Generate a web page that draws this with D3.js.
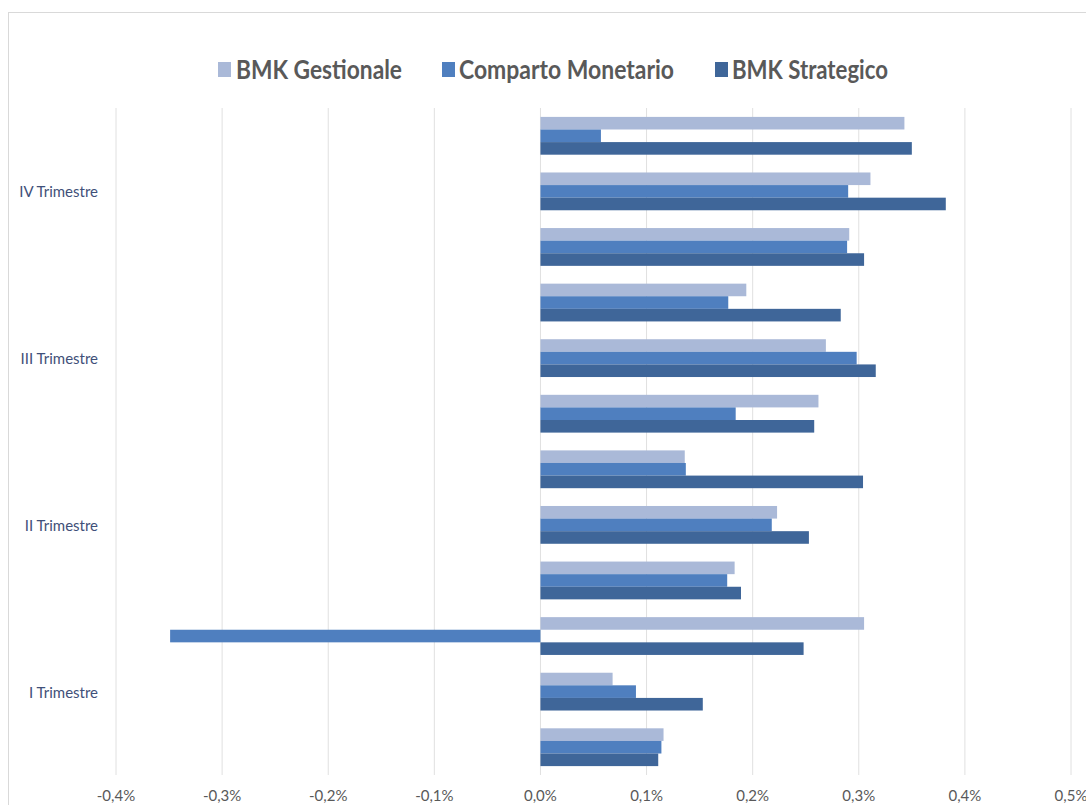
<!DOCTYPE html>
<meta charset="utf-8">
<script src="https://d3js.org/d3.v7.min.js"></script>
<style>
  body { margin: 0; background: #fff; }
  svg { display: block; font-family: Lato, "Open Sans", sans-serif; }
</style>
<div id="my_dataviz"></div>
<script>
// months, bottom (Jan) to top (Dec)
var months = ["Gen", "Feb", "Mar", "Apr", "Mag", "Giu", "Lug", "Ago", "Set", "Ott", "Nov", "Dic"];
// quarter label shown on the middle month of each quarter
var quarterLabels = ["I Trimestre", "II Trimestre", "III Trimestre", "IV Trimestre"];
var seriesNames = ["BMK Gestionale", "Comparto Monetario", "BMK Strategico"];
var colors = ["#aab9d8", "#4f7fbf", "#3f6699"];

// values in %
var gestionale = [0.116, 0.068, 0.305, 0.183, 0.223, 0.136, 0.262, 0.269, 0.194, 0.291, 0.311, 0.343];
var monetario  = [0.114, 0.090, -0.349, 0.176, 0.218, 0.137, 0.184, 0.298, 0.177, 0.289, 0.290, 0.057];
var strategico = [0.111, 0.153, 0.248, 0.189, 0.253, 0.304, 0.258, 0.316, 0.283, 0.305, 0.382, 0.350];

var xTicks = [-0.4, -0.3, -0.2, -0.1, 0, 0.1, 0.2, 0.3, 0.4, 0.5];

var W = 1086, H = 805;
var svg = d3.select("#my_dataviz").append("svg")
  .attr("width", W).attr("height", H);

// chart frame
svg.append("rect")
  .attr("x", 8.5).attr("y", 12.5)
  .attr("width", W + 20).attr("height", H + 20)
  .attr("fill", "#fff").attr("stroke", "#d9d9d9");

var plotTop = 108, plotBottom = 775;

var x = d3.scaleLinear().domain([-0.4, 0.5]).range([116, 1071]);

// top category on top -> reverse the months
var y = d3.scaleBand()
  .domain(months.slice().reverse())
  .range([plotTop, plotBottom])
  .paddingInner(0.32)
  .paddingOuter(0.16);

var ySub = d3.scaleBand().domain(seriesNames).range([0, y.bandwidth()]);

// gridlines
svg.append("g")
  .selectAll("line")
  .data(xTicks)
  .enter().append("line")
    .attr("x1", function(d) { return x(d); })
    .attr("x2", function(d) { return x(d); })
    .attr("y1", plotTop).attr("y2", plotBottom)
    .attr("stroke", "#e0e0e0").attr("stroke-width", 1);

// x tick labels (Italian decimal comma)
function fmt(d) {
  var s = Math.abs(d).toFixed(1).replace(".", ",") + "%";
  return (d < 0 ? "-" : "") + s;
}
svg.append("g")
  .selectAll("text")
  .data(xTicks)
  .enter().append("text")
    .attr("x", function(d) { return x(d); })
    .attr("y", 801)
    .attr("text-anchor", "middle")
    .attr("fill", "#595959")
    .style("font-size", "15px")
    .text(fmt);

// bars
var table = months.map(function(m, i) {
  return { month: m, values: [gestionale[i], monetario[i], strategico[i]] };
});

var groups = svg.append("g")
  .selectAll("g")
  .data(table)
  .enter().append("g")
    .attr("transform", function(d) { return "translate(0," + y(d.month) + ")"; });

groups.selectAll("rect")
  .data(function(d) {
    return d.values.map(function(v, j) { return { name: seriesNames[j], value: v, j: j }; });
  })
  .enter().append("rect")
    .attr("x", function(d) { return x(Math.min(0, d.value)); })
    .attr("y", function(d) { return ySub(d.name); })
    .attr("width", function(d) { return Math.abs(x(d.value) - x(0)); })
    .attr("height", ySub.bandwidth())
    .attr("fill", function(d) { return colors[d.j]; });

// quarter labels on the middle month
svg.append("g")
  .selectAll("text")
  .data(quarterLabels)
  .enter().append("text")
    .attr("x", 98)
    .attr("y", function(d, i) { var m = months[i * 3 + 1]; return y(m) + y.bandwidth() / 2 + 6; })
    .attr("text-anchor", "end")
    .attr("fill", "#3f5079")
    .style("font-size", "15px")
    .text(function(d) { return d; });

// legend
var legendItems = [
  { name: seriesNames[0], sx: 218, tx: 236, tw: 166 },
  { name: seriesNames[1], sx: 442, tx: 459, tw: 215 },
  { name: seriesNames[2], sx: 715, tx: 732, tw: 156 }
];
var legend = svg.append("g");
legend.selectAll("rect")
  .data(legendItems)
  .enter().append("rect")
    .attr("x", function(d) { return d.sx; })
    .attr("y", 62).attr("width", 13).attr("height", 15)
    .attr("fill", function(d, i) { return colors[i]; });
legend.selectAll("text")
  .data(legendItems)
  .enter().append("text")
    .attr("x", function(d) { return d.tx; })
    .attr("y", 79)
    .attr("textLength", function(d) { return d.tw; })
    .attr("lengthAdjust", "spacingAndGlyphs")
    .attr("fill", "#595959")
    .style("font-size", "26px")
    .style("font-weight", "bold")
    .text(function(d) { return d.name; });
</script>
